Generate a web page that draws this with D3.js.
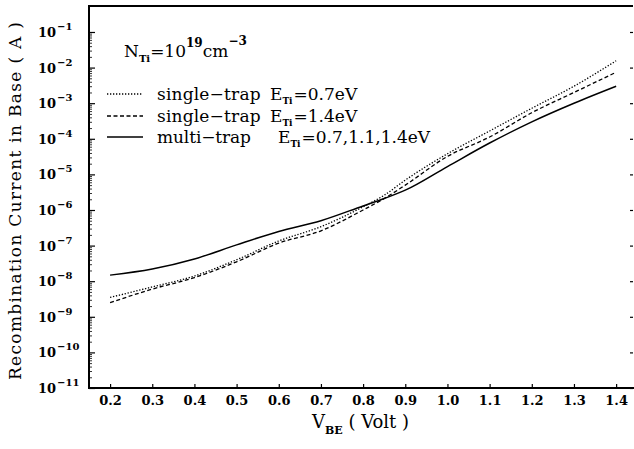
<!DOCTYPE html>
<html>
<head>
<meta charset="utf-8">
<script src="https://cdn.jsdelivr.net/npm/d3@7"></script>
<style>
  body { margin: 0; background: #fff; }
  text { fill: #000; }
</style>
</head>
<body>
<div id="chart"></div>
<script>
// V_BE sample points (Volt)
var vbe = [0.2, 0.3, 0.4, 0.5, 0.6, 0.7, 0.8, 0.85, 0.9, 1.0, 1.1, 1.2, 1.3, 1.4];

// recombination current in base (A)
var single_07 = [3.5e-9, 6.9e-9, 1.4e-8, 4.0e-8, 1.35e-7, 3.4e-7, 1.23e-6, 2.6e-6, 6.9e-6, 3.8e-5, 1.66e-4, 7.2e-4, 3.0e-3, 1.55e-2];
var single_14 = [2.5e-9, 6.0e-9, 1.26e-8, 3.5e-8, 1.17e-7, 2.6e-7, 1.0e-6, 2.1e-6, 5.0e-6, 3.2e-5, 1.12e-4, 5.4e-4, 2.0e-3, 7.4e-3];
var multi = [1.48e-8, 2.2e-8, 4.2e-8, 1.05e-7, 2.5e-7, 5.0e-7, 1.3e-6, 2.1e-6, 3.6e-6, 1.66e-5, 7.6e-5, 3.0e-4, 1.0e-3, 3.0e-3];

var x_ticks = [0.2, 0.3, 0.4, 0.5, 0.6, 0.7, 0.8, 0.9, 1.0, 1.1, 1.2, 1.3, 1.4];
var y_exps = [-11, -10, -9, -8, -7, -6, -5, -4, -3, -2, -1];

var chart_width = 634;
var chart_height = 449;
var plot_left = 89, plot_right = 633, plot_top = 6, plot_bottom = 388;

var svg = d3.select('#chart')
  .append('svg')
  .attr('width', chart_width)
  .attr('height', chart_height);

var x_scale = d3.scaleLinear()
  .domain([0.15, 1.44])
  .range([plot_left, plot_right]);

var y_scale = d3.scaleLog()
  .domain([1e-11, Math.pow(10, -0.27)])
  .range([plot_bottom, plot_top]);

var tick_font = "'DejaVu Serif', serif";

// frame: left, bottom, top (right side only has ticks)
svg.append('path')
  .attr('d', 'M' + plot_right + ',' + plot_top + 'H' + plot_left + 'V' + plot_bottom + 'H' + chart_width)
  .attr('fill', 'none')
  .attr('stroke', '#000')
  .attr('stroke-width', 2);

// x axis ticks (inside) and labels
var x_axis = d3.axisBottom(x_scale)
  .tickValues(x_ticks)
  .tickSizeInner(-4)
  .tickSizeOuter(0)
  .tickPadding(10)
  .tickFormat(d3.format('.1f'));

var gx = svg.append('g')
  .attr('class', 'x-axis')
  .attr('transform', 'translate(0,' + plot_bottom + ')')
  .call(x_axis);
gx.select('.domain').remove();
gx.selectAll('line').attr('stroke', '#000').attr('stroke-width', 1.2);
gx.selectAll('text')
  .attr('font-family', tick_font)
  .attr('font-size', 13)
  .attr('font-weight', 'bold')
  .attr('dy', '0.55em');

// y axis: major ticks with minor log ticks inside
var minor = [];
y_exps.forEach(function(e) {
  if (e < -1) {
    for (var k = 2; k <= 9; k++) minor.push(k * Math.pow(10, e));
  }
});
var y_axis_minor = d3.axisLeft(y_scale)
  .tickValues(minor)
  .tickSizeInner(-3)
  .tickSizeOuter(0)
  .tickFormat('');
var gym = svg.append('g')
  .attr('transform', 'translate(' + plot_left + ',0)')
  .call(y_axis_minor);
gym.select('.domain').remove();
gym.selectAll('line').attr('stroke', '#000').attr('stroke-width', 0.8);

var y_axis = d3.axisLeft(y_scale)
  .tickValues(y_exps.map(function(e) { return Math.pow(10, e); }))
  .tickSizeInner(-6)
  .tickSizeOuter(0)
  .tickFormat('');
var gy = svg.append('g')
  .attr('class', 'y-axis')
  .attr('transform', 'translate(' + plot_left + ',0)')
  .call(y_axis);
gy.select('.domain').remove();
gy.selectAll('line').attr('stroke', '#000').attr('stroke-width', 1.2);

// right side ticks
var y_axis_right = d3.axisRight(y_scale)
  .tickValues(y_exps.map(function(e) { return Math.pow(10, e); }))
  .tickSizeInner(-3)
  .tickSizeOuter(0)
  .tickFormat('');
var gyr = svg.append('g')
  .attr('transform', 'translate(' + plot_right + ',0)')
  .call(y_axis_right);
gyr.select('.domain').remove();
gyr.selectAll('line').attr('stroke', '#000').attr('stroke-width', 1.2);

// y tick labels: 10^e
var ylab = svg.append('g')
  .selectAll('text')
  .data(y_exps)
  .enter()
  .append('text')
  .attr('x', 38)
  .attr('y', function(d) { return y_scale(Math.pow(10, d)) + 5; })
  .attr('font-family', tick_font)
  .attr('font-size', 13)
  .attr('font-weight', 'bold');
ylab.append('tspan').text('10');
ylab.append('tspan')
  .attr('dy', -7)
  .attr('dx', 1)
  .attr('font-size', 10)
  .text(function(d) { return '\u2212' + (-d); });

// curves
var series = [
  { values: single_07, dash: '1.3,1.7', width: 1.3 },
  { values: single_14, dash: '4,2.5', width: 1.3 },
  { values: multi, dash: null, width: 1.5 }
];

var line = d3.line()
  .x(function(d) { return x_scale(d[0]); })
  .y(function(d) { return y_scale(d[1]); })
  .curve(d3.curveMonotoneX);

svg.append('g')
  .attr('id', 'plot-area')
  .selectAll('path')
  .data(series)
  .enter()
  .append('path')
  .attr('d', function(s) {
    return line(vbe.map(function(v, i) { return [v, s.values[i]]; }));
  })
  .attr('fill', 'none')
  .attr('stroke', '#000')
  .attr('stroke-width', function(s) { return s.width; })
  .attr('stroke-dasharray', function(s) { return s.dash; });

// legend
var leg_font = "'DejaVu Serif', serif";
var nt = svg.append('text')
  .attr('x', 124)
  .attr('y', 57)
  .attr('font-family', leg_font)
  .attr('font-size', 17);
nt.append('tspan').text('N');
nt.append('tspan').attr('dy', 5).attr('font-size', 10).attr('font-weight', 'bold').text('Ti');
nt.append('tspan').attr('dy', -5).text('=10');
nt.append('tspan').attr('dy', -10).attr('font-size', 12).attr('font-weight', 'bold').text('19');
nt.append('tspan').attr('dy', 10).text('cm');
nt.append('tspan').attr('dy', -12).attr('font-size', 12).attr('font-weight', 'bold').text('\u22123');

var legend_rows = [
  { name: 'single\u2212trap', ex: 270, value: '=0.7eV', y: 100, dash: '1.3,1.7', width: 1.3 },
  { name: 'single\u2212trap', ex: 270, value: '=1.4eV', y: 122, dash: '4,2.5', width: 1.3 },
  { name: 'multi\u2212trap', ex: 278, value: '=0.7,1.1,1.4eV', y: 143, dash: null, width: 1.5 }
];

var rows = svg.append('g')
  .selectAll('g')
  .data(legend_rows)
  .enter()
  .append('g');

rows.append('line')
  .attr('x1', 107)
  .attr('x2', 143)
  .attr('y1', function(d) { return d.y - 6; })
  .attr('y2', function(d) { return d.y - 6; })
  .attr('stroke', '#000')
  .attr('stroke-width', function(d) { return d.width; })
  .attr('stroke-dasharray', function(d) { return d.dash; });

rows.append('text')
  .attr('x', 157)
  .attr('y', function(d) { return d.y; })
  .attr('font-family', leg_font)
  .attr('font-size', 17)
  .attr('textLength', function(d) { return d.name.length * 9.6 - 2; })
  .text(function(d) { return d.name; });

var et = rows.append('text')
  .attr('x', function(d) { return d.ex; })
  .attr('y', function(d) { return d.y; })
  .attr('font-family', leg_font)
  .attr('font-size', 17);
et.append('tspan').text('E');
et.append('tspan').attr('dy', 4).attr('font-size', 9).attr('font-weight', 'bold').text('Ti');
et.append('tspan').attr('dy', -4).attr('dx', 1).text(function(d) { return d.value; });

// axis titles
var xt = svg.append('text')
  .attr('x', 312)
  .attr('y', 428)
  .attr('font-family', leg_font)
  .attr('font-size', 18);
xt.append('tspan').text('V');
xt.append('tspan').attr('dy', 6).attr('font-size', 11).attr('font-weight', 'bold').text('BE');
xt.append('tspan').attr('dy', -6).attr('xml:space', 'preserve').text(' ( Volt )');

svg.append('text')
  .attr('transform', 'translate(21,' + ((plot_top + plot_bottom) / 2 + 4) + ') rotate(-90)')
  .attr('text-anchor', 'middle')
  .attr('font-family', leg_font)
  .attr('font-size', 17)
  .attr('textLength', 358)
  .attr('lengthAdjust', 'spacing')
  .text('Recombination Current in Base ( A )');
</script>
</body>
</html>
